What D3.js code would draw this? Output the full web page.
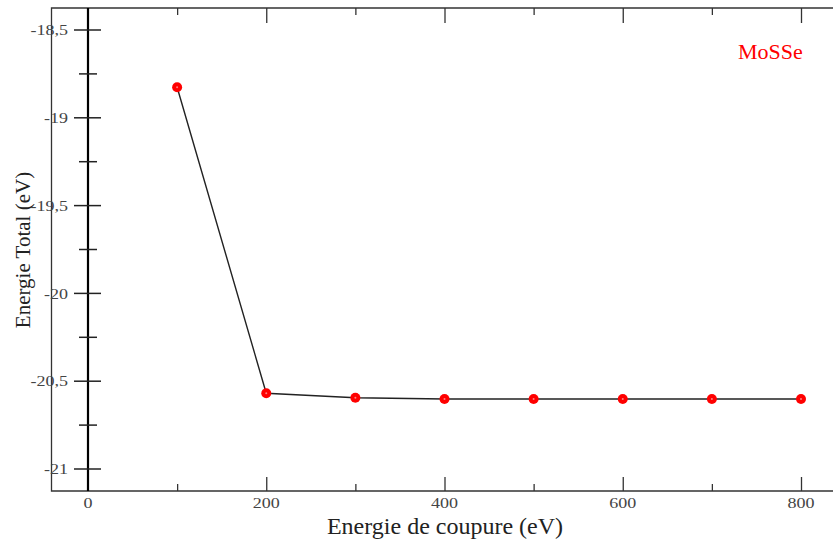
<!DOCTYPE html>
<html>
<head>
<meta charset="utf-8">
<script src="https://cdn.jsdelivr.net/npm/d3@7"></script>
<style>
  body { margin: 0; background: #fff; }
  text { font-family: "Liberation Serif", "DejaVu Serif", serif; }
</style>
</head>
<body>
<div id="chart"></div>
<script>
// data
const cutoff = [100, 200, 300, 400, 500, 600, 700, 800];
const energy = [-18.826, -20.569, -20.594, -20.601, -20.601, -20.601, -20.601, -20.601];
const xMajorTicks = [0, 200, 400, 600, 800];
const xMinorTicks = [100, 300, 500, 700];
const yMajorTicks = [-18.5, -19, -19.5, -20, -20.5, -21];
const yMinorTicks = [-18.75, -19.25, -19.75, -20.25, -20.75];
const seriesName = 'MoSSe';

const width = 833,
      height = 541;

// frame edges
const frame = { left: 51.5, top: 8, bottom: 491, right: 840 };

const $svg = d3.select('#chart').append('svg')
  .attr('width', width)
  .attr('height', height);

const xScale = d3.scaleLinear()
  .domain([0, 800])
  .range([88, 801]);

const yScale = d3.scaleLinear()
  .domain([-18.5, -21])
  .range([30, 469]);

const fmt = d => String(d).replace('.', ',');

// frame (left, top, bottom)
$svg.append('path')
  .attr('d', `M${frame.right},${frame.top}H${frame.left}V${frame.bottom}H${frame.right}`)
  .style('fill', 'none')
  .style('stroke', '#333')
  .style('stroke-width', 1.3);

// bottom axis ticks (inward)
const $xBottom = $svg.append('g')
  .attr('transform', `translate(0, ${frame.bottom})`)
  .call(d3.axisTop(xScale).tickValues(xMajorTicks.filter(d => d !== 0)).tickSize(14).tickFormat(''));
$xBottom.append('g')
  .call(d3.axisTop(xScale).tickValues(xMinorTicks).tickSize(7).tickFormat(''));

// top axis ticks (inward)
const $xTop = $svg.append('g')
  .attr('transform', `translate(0, ${frame.top})`)
  .call(d3.axisBottom(xScale).tickValues(xMajorTicks.filter(d => d !== 0)).tickSize(15).tickFormat(''));
$xTop.append('g')
  .call(d3.axisBottom(xScale).tickValues(xMinorTicks).tickSize(7).tickFormat(''));

$svg.selectAll('.domain').remove();
$svg.selectAll('.tick line')
  .style('stroke', '#333')
  .style('stroke-width', 1.3);

// x tick labels (slightly stretched like the original)
$svg.append('g').selectAll('text')
  .data(xMajorTicks)
  .enter()
  .append('text')
  .attr('transform', d => `translate(${xScale(d)}, 508) scale(1.2, 1)`)
  .attr('text-anchor', 'middle')
  .style('font-size', '15px')
  .style('fill', '#444')
  .text(d => d);

// y axis at x = 0 with crossing ticks
const x0 = xScale(0);
$svg.append('line')
  .attr('x1', x0).attr('x2', x0)
  .attr('y1', frame.top).attr('y2', frame.bottom)
  .style('stroke', '#000')
  .style('stroke-width', 2.2);

$svg.append('g').selectAll('line')
  .data(yMajorTicks)
  .enter()
  .append('line')
  .attr('x1', x0 - 14).attr('x2', x0 + 13)
  .attr('y1', d => yScale(d)).attr('y2', d => yScale(d))
  .style('stroke', '#222')
  .style('stroke-width', 1.5);

$svg.append('g').selectAll('line')
  .data(yMinorTicks)
  .enter()
  .append('line')
  .attr('x1', x0 - 9).attr('x2', x0 + 9)
  .attr('y1', d => yScale(d)).attr('y2', d => yScale(d))
  .style('stroke', '#222')
  .style('stroke-width', 1.5);

$svg.append('g').selectAll('text')
  .data(yMajorTicks)
  .enter()
  .append('text')
  .attr('transform', d => `translate(68, ${yScale(d)}) scale(1.2, 1)`)
  .attr('dy', '0.35em')
  .attr('text-anchor', 'end')
  .style('font-size', '15px')
  .style('fill', '#444')
  .text(fmt);

// axis titles
$svg.append('text')
  .attr('transform', `translate(30, 250) rotate(-90)`)
  .attr('text-anchor', 'middle')
  .style('font-size', '21px')
  .style('fill', '#222')
  .text('Energie Total (eV)');

$svg.append('text')
  .attr('x', 445)
  .attr('y', 534)
  .attr('text-anchor', 'middle')
  .style('font-size', '24px')
  .style('fill', '#222')
  .text('Energie de coupure (eV)');

// series
const points = cutoff.map((c, i) => ({ x: c, y: energy[i] }));

const line = d3.line()
  .x(d => xScale(d.x))
  .y(d => yScale(d.y));

$svg.append('path')
  .attr('d', line(points))
  .style('fill', 'none')
  .style('stroke', '#222')
  .style('stroke-width', 1.4);

$svg.append('g').selectAll('circle')
  .data(points)
  .enter()
  .append('circle')
  .attr('cx', d => xScale(d.x))
  .attr('cy', d => yScale(d.y))
  .attr('r', 5)
  .style('fill', '#ff0000');

$svg.append('g').selectAll('circle')
  .data(points)
  .enter()
  .append('circle')
  .attr('cx', d => xScale(d.x))
  .attr('cy', d => yScale(d.y))
  .attr('r', 1)
  .style('fill', '#ff8080');

// legend label
$svg.append('text')
  .attr('x', 738)
  .attr('y', 59)
  .style('font-size', '22px')
  .style('fill', '#ff0000')
  .text(seriesName);
</script>
</body>
</html>
